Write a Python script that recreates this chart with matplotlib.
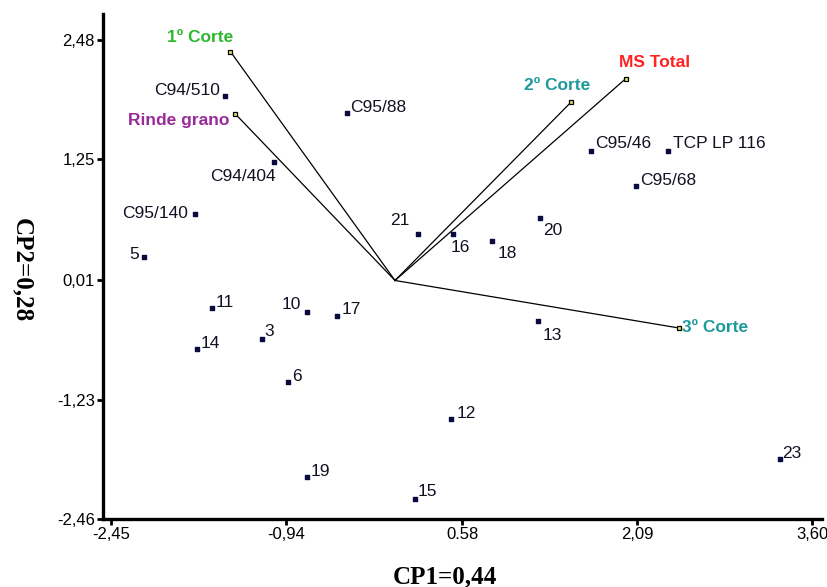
import matplotlib
matplotlib.use("Agg")
import matplotlib.pyplot as plt

# genotype scores on the first two principal components
gen_names = ["C94/510", "C95/88", "C94/404", "C95/140", "5", "21", "16", "18", "20",
             "C95/46", "TCP LP 116", "C95/68", "11", "10", "17", "3", "14", "6",
             "19", "15", "12", "13", "23"]
gen_cp1 = [-1.47, -0.41, -1.04, -1.73, -2.17, 0.20, 0.50, 0.84, 1.25,
           1.69, 2.36, 2.08, -1.58, -0.76, -0.50, -1.15, -1.71, -0.92,
           -0.76, 0.17, 0.48, 1.23, 3.32]
gen_cp2 = [1.90, 1.73, 1.22, 0.69, 0.24, 0.48, 0.48, 0.41, 0.64,
           1.33, 1.34, 0.97, -0.28, -0.33, -0.37, -0.60, -0.71, -1.05,
           -2.03, -2.25, -1.43, -0.42, -1.84]

# variable loadings (vectors from the origin)
var_names = ["1º Corte", "Rinde grano", "2º Corte", "MS Total", "3º Corte"]
var_cp1 = [-1.42, -1.38, 1.52, 1.99, 2.45]
var_cp2 = [2.36, 1.72, 1.84, 2.08, -0.49]
var_colors = ["#2fb82f", "#9a2a9a", "#1f9a9a", "#ff2222", "#1f9a9a"]

xticks = [-2.45, -0.94, 0.58, 2.09, 3.60]
xtick_labels = ["-2,45", "-0,94", "0.58", "2,09", "3,60"]
yticks = [-2.46, -1.23, 0.01, 1.25, 2.48]
ytick_labels = ["-2,46", "-1,23", "0,01", "1,25", "2,48"]

# label placement: (dx, dy) in points, horizontal alignment
gen_offsets = {
    "C94/510": (-3, 4, "right"), "C95/88": (2, 4, "left"), "C94/404": (1, -10, "right"),
    "C95/140": (-5, 0, "right"), "5": (-3, 2, "right"), "21": (-6, 10, "right"),
    "16": (-2, -10, "left"), "18": (4, -9, "left"), "20": (2, -9, "left"),
    "C95/46": (3, 6, "left"), "TCP LP 116": (3, 5, "left"), "C95/68": (3, 4, "left"),
    "11": (3, 4, "left"), "10": (-4, 6, "right"), "17": (3, 5, "left"),
    "3": (2, 5, "left"), "14": (3, 4, "left"), "6": (3, 4, "left"),
    "19": (3, 4, "left"), "15": (2, 5, "left"), "12": (4, 4, "left"),
    "13": (4, -10, "left"), "23": (2, 4, "left"),
}
var_offsets = {
    "1º Corte": (2, 10, "right"), "Rinde grano": (-4, -5, "right"),
    "2º Corte": (14, 12, "right"), "MS Total": (-5, 12, "left"),
    "3º Corte": (2, 0, "left"),
}

plt.rcParams["font.family"] = ["Liberation Sans", "DejaVu Sans"]

fig = plt.figure(figsize=(8.27, 5.87), dpi=100)
ax = fig.add_axes([0.1245, 0.1158, 0.8695, 0.8602])

for name, x, y, c in zip(var_names, var_cp1, var_cp2, var_colors):
    ax.plot([0, x], [0, y], color="black", lw=0.9, zorder=2)
    ax.plot(x, y, marker="s", ms=3.5, mfc="#e8e060", mec="black", mew=0.9, zorder=3)
    dx, dy, ha = var_offsets[name]
    ax.annotate(name, (x, y), xytext=(dx, dy), textcoords="offset points",
                ha=ha, va="center", color=c, fontsize=12.5, fontweight="bold")

ax.scatter(gen_cp1, gen_cp2, marker="s", s=9, color="#0a0a40", zorder=3)
for name, x, y in zip(gen_names, gen_cp1, gen_cp2):
    dx, dy, ha = gen_offsets[name]
    ax.annotate(name, (x, y), xytext=(dx, dy), textcoords="offset points",
                ha=ha, va="center", color="#111122", fontsize=12.5)

ax.set_xlim(-2.52, 3.685)
ax.set_ylim(-2.46, 2.747)
ax.set_xticks(xticks, xtick_labels, fontsize=12)
ax.set_yticks(yticks, ytick_labels, fontsize=12)
ax.tick_params(direction="out", length=4, width=2, pad=2)

for side in ["top", "right"]:
    ax.spines[side].set_visible(False)
for side in ["left", "bottom"]:
    ax.spines[side].set_linewidth(2.4)

fig.text(0.538, 0.017, "CP1=0,44", family="Liberation Serif", fontweight="bold",
         fontsize=18, ha="center", va="center")
fig.text(0.027, 0.54, "CP2=0,28", family="Liberation Serif", fontweight="bold",
         fontsize=18, ha="center", va="center", rotation=270)

fig.savefig("out.png", dpi=100)
